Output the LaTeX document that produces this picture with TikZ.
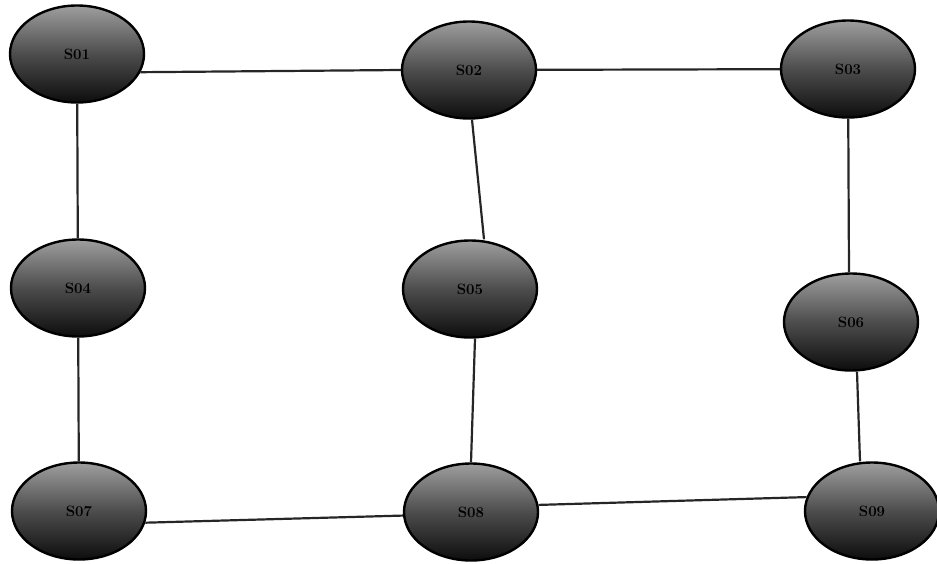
\documentclass[tikz,border=0pt]{standalone}
\usetikzlibrary{shapes.geometric}
\begin{document}
\begin{tikzpicture}[x=1pt,y=-1pt,
  site/.style={ellipse,draw=black,line width=2.4pt,minimum width=134pt,minimum height=97pt,inner sep=0pt,
    top color=black!38,bottom color=black!95,middle color=black!70,font=\fontsize{15}{15}\selectfont\bfseries,text=black},
  link/.style={draw=black!85,line width=2.2pt}]
\useasboundingbox (0,0) rectangle (937,563);
\node[site] (n1) at (77,54) {S01};
\node[site] (n2) at (469,70) {S02};
\node[site] (n3) at (848,69) {S03};
\node[site] (n4) at (78,288) {S04};
\node[site] (n5) at (470,289) {S05};
\node[site] (n6) at (851,322) {S06};
\node[site] (n7) at (79,511) {S07};
\node[site] (n8) at (471,512) {S08};
\node[site] (n9) at (872,511) {S09};
\draw[link] (n1.-16) -- (n2.west);
\draw[link] (n2) -- (n3);
\draw[link] (n1) -- (n4);
\draw[link] (n4) -- (n7);
\draw[link] ([xshift=3pt]n2.south) -- ([xshift=14pt]n5.north);
\draw[link] ([xshift=5pt]n5.south) -- (n8.north);
\draw[link] (n3) -- ([xshift=-2pt]n6.north);
\draw[link] ([xshift=6pt]n6.south) -- ([xshift=-12pt]n9.north);
\draw[link] (n7.-10) -- (n8.-177);
\draw[link] (n8.6) -- (n9.168);
\end{tikzpicture}
\end{document}
